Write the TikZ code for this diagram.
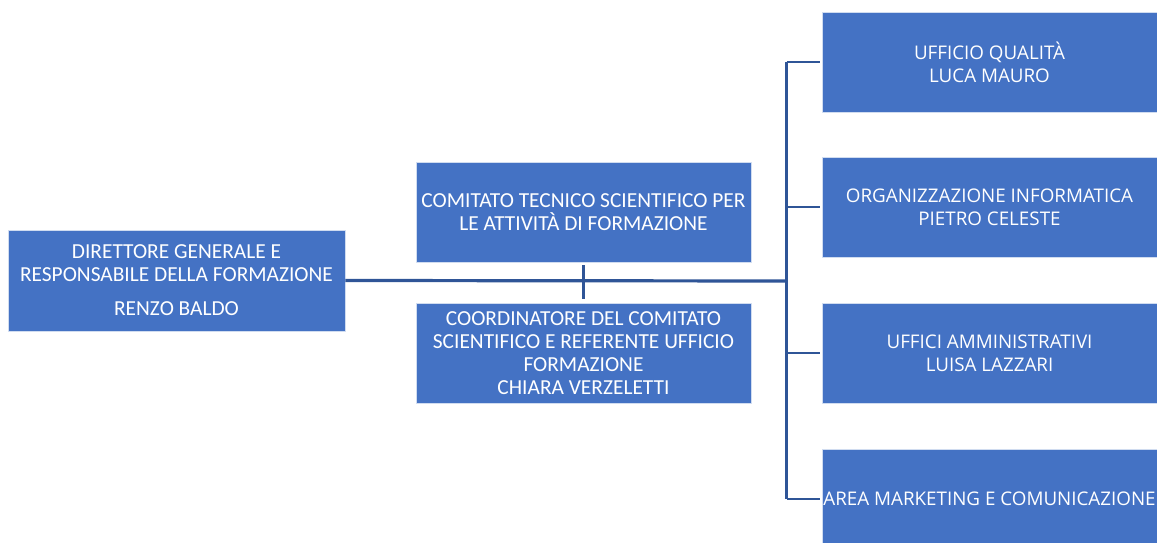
\documentclass[tikz,border=0pt]{standalone}
\usepackage{fontspec}
\setmainfont{Carlito}
\newfontfamily\officefont{Open Sans}
\definecolor{boxblue}{HTML}{4472C4}
\definecolor{lineblue}{HTML}{2F5597}
\begin{document}
\begin{tikzpicture}[x=1pt,y=1pt, line join=round,
	orgbox/.style={fill=boxblue, draw=white!75!boxblue, line width=0.6pt, text=white, align=center,
		minimum width=335pt, minimum height=100pt, inner sep=0pt, font=\fontsize{21.4}{23}\selectfont},
	deptbox/.style={orgbox, font=\officefont\fontsize{18.8}{23}\selectfont},
	link/.style={draw=lineblue, line width=2.4pt}]
	\useasboundingbox (0,0) rectangle (1157,542);
	\begin{scope}
		\clip (0,0) rectangle (1157,542);
		\node[orgbox, minimum width=337pt, minimum height=101pt] (dir) at (176.5,261.5) {DIRETTORE GENERALE E\\RESPONSABILE DELLA FORMAZIONE\\[11pt]RENZO BALDO};
		\node[orgbox] (cts) at (583.5,330) {COMITATO TECNICO SCIENTIFICO PER\\LE ATTIVIT\`A DI FORMAZIONE};
		\node[orgbox] (coord) at (583.5,189) {COORDINATORE DEL COMITATO\\SCIENTIFICO E REFERENTE UFFICIO\\FORMAZIONE\\CHIARA VERZELETTI};
		\node[deptbox] (qual) at (989.5,480) {\rule{0pt}{13.5pt}UFFICIO QUALIT\`A\\LUCA MAURO};
		\node[deptbox] (info) at (989.5,335) {ORGANIZZAZIONE INFORMATICA\\PIETRO CELESTE};
		\node[deptbox] (amm) at (989.5,189) {UFFICI AMMINISTRATIVI\\LUISA LAZZARI};
		\node[deptbox] (mkt) at (989.5,43) {AREA MARKETING E COMUNICAZIONE};
	\end{scope}

	% connettori
	\coordinate (bus) at (786.5,261);
	\draw[link, line width=3.2pt] (dir.east) -- (bus);
	\draw[link] (583.5,261) -- ++(0,16) (583.5,261) -- ++(0,-18);
	\draw[link] (bus |- qual.west) -- (bus |- mkt.west);
	\foreach \n in {qual,info,amm,mkt}
		\draw[link] (bus |- \n.west) -- ([xshift=-1.5pt]\n.west);
\end{tikzpicture}
\end{document}
